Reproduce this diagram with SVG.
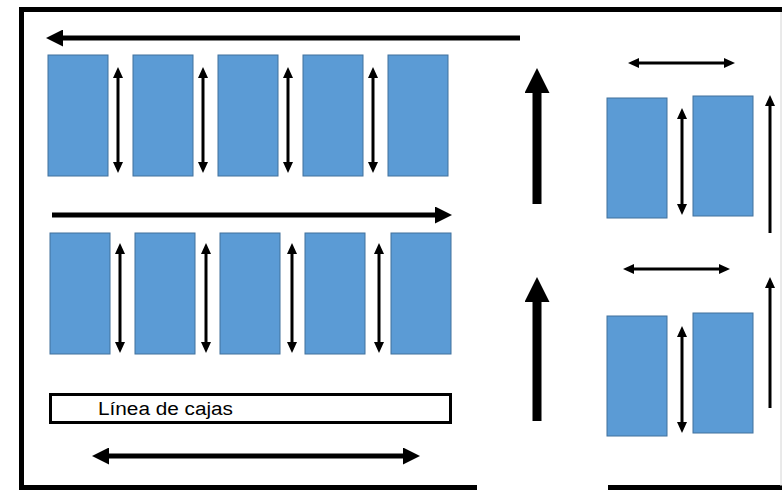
<svg xmlns="http://www.w3.org/2000/svg" width="782" height="490" viewBox="0 0 782 490">
<style>
.box{fill:#5B9BD5;stroke:#41719C;stroke-width:1}
.border{fill:none;stroke:#000;stroke-width:5}
.s{fill:none;stroke:#000;stroke-width:3}
.m{fill:none;stroke:#000;stroke-width:5}
.l{fill:none;stroke:#000;stroke-width:9}
.sa{marker-start:url(#hs);marker-end:url(#hs)}
.se{marker-end:url(#hs)}
.ma{marker-start:url(#hm);marker-end:url(#hm)}
.me{marker-end:url(#hm)}
.le{marker-end:url(#hl)}
.lbl{font-family:"Liberation Sans",Arial,sans-serif;font-size:18px;fill:#000}
</style>
<defs>
<marker id="hs" markerUnits="userSpaceOnUse" markerWidth="11" markerHeight="10" refX="1" refY="5" orient="auto-start-reverse"><path d="M0,0 L11,5 L0,10 z" fill="#000"/></marker>
<marker id="hm" markerUnits="userSpaceOnUse" markerWidth="17" markerHeight="17" refX="1" refY="8.5" orient="auto-start-reverse"><path d="M0,0 L17,8.5 L0,17 z" fill="#000"/></marker>
<marker id="hl" markerUnits="userSpaceOnUse" markerWidth="25" markerHeight="25" refX="1" refY="12.5" orient="auto-start-reverse"><path d="M0,0 L25,12.5 L0,25 z" fill="#000"/></marker>
</defs>
<rect width="782" height="490" fill="#fff"/>
<g id="border">
<path class="border" d="M21.5,490 L21.5,9.5 L782,9.5"/>
<path class="border" d="M19,487.5 L477,487.5 M608,487.5 L782,487.5"/>
<line x1="781" y1="12" x2="781" y2="486" stroke="#d4d4d4" stroke-width="1"/>
</g>
<g id="row1">
<rect id="r1a" class="box" x="48" y="55" width="60" height="121"/>
<rect id="r1b" class="box" x="133" y="55" width="60" height="121"/>
<rect id="r1c" class="box" x="218" y="55" width="60" height="121"/>
<rect id="r1d" class="box" x="303" y="55" width="60" height="121"/>
<rect id="r1e" class="box" x="388" y="55" width="60" height="121"/>
</g>
<g id="row2">
<rect id="r2a" class="box" x="50" y="233" width="60" height="121"/>
<rect id="r2b" class="box" x="135" y="233" width="60" height="121"/>
<rect id="r2c" class="box" x="220" y="233" width="60" height="121"/>
<rect id="r2d" class="box" x="305" y="233" width="60" height="121"/>
<rect id="r2e" class="box" x="391" y="233" width="60" height="121"/>
</g>
<g id="right">
<rect id="r3a" class="box" x="607" y="98" width="60" height="120"/>
<rect id="r3b" class="box" x="693" y="96" width="60" height="120"/>
<rect id="r4a" class="box" x="607" y="316" width="60" height="120"/>
<rect id="r4b" class="box" x="693" y="313" width="60" height="120"/>
</g>
<g id="cajas">
<rect x="50.5" y="394.5" width="400" height="28" fill="#fff" stroke="#000" stroke-width="3"/>
<text class="lbl" x="98" y="415" textLength="135" lengthAdjust="spacingAndGlyphs">Línea de cajas</text>
</g>
<g id="connectors">
<line class="m me" x1="520" y1="38" x2="62" y2="38"/>
<line class="m me" x1="52" y1="215" x2="436" y2="215"/>
<line class="m ma" x1="108" y1="456" x2="404" y2="456"/>
<line class="s sa" x1="118" y1="77" x2="118" y2="163"/>
<line class="s sa" x1="203" y1="77" x2="203" y2="163"/>
<line class="s sa" x1="288" y1="77" x2="288" y2="163"/>
<line class="s sa" x1="373" y1="77" x2="373" y2="163"/>
<line class="s sa" x1="120" y1="253" x2="120" y2="343"/>
<line class="s sa" x1="206" y1="253" x2="206" y2="343"/>
<line class="s sa" x1="292" y1="253" x2="292" y2="343"/>
<line class="s sa" x1="379" y1="253" x2="379" y2="343"/>
<line class="l le" x1="537" y1="204" x2="537" y2="92"/>
<line class="l le" x1="537" y1="421" x2="537" y2="301"/>
<line class="s sa" x1="638" y1="63" x2="725" y2="63"/>
<line class="s sa" x1="633" y1="269" x2="720" y2="269"/>
<line class="s sa" x1="682" y1="118" x2="682" y2="205"/>
<line class="s sa" x1="682" y1="336" x2="682" y2="423"/>
<line class="s se" x1="770" y1="233" x2="770" y2="105"/>
<line class="s se" x1="770" y1="408" x2="770" y2="287"/>
</g>
</svg>
